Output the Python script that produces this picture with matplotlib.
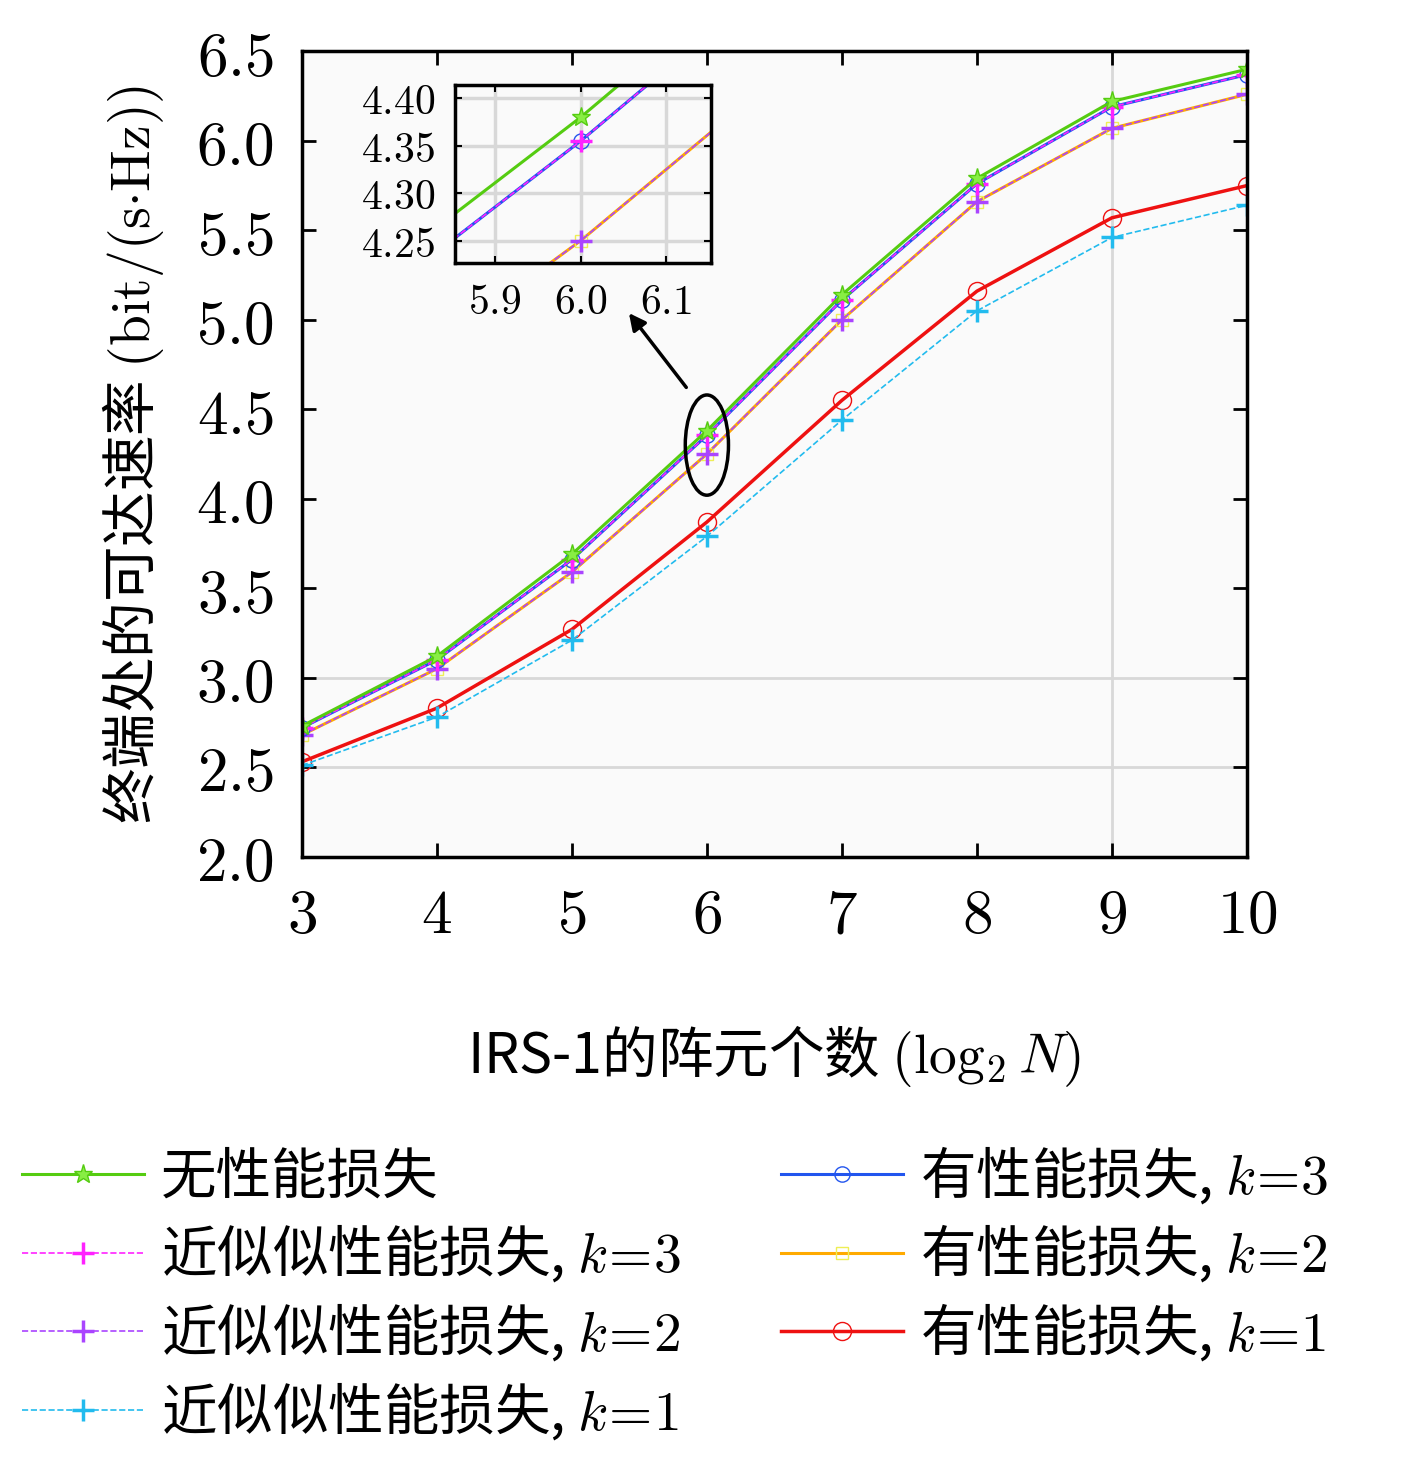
import matplotlib
matplotlib.use('Agg')
import matplotlib.pyplot as plt
from matplotlib.patches import Ellipse

plt.rcParams['mathtext.fontset'] = 'cm'
plt.rcParams['font.family'] = ['Noto Sans CJK SC', 'DejaVu Serif']

# data
n_log = [3, 4, 5, 6, 7, 8, 9, 10]
no_loss = [2.73, 3.12, 3.69, 4.38, 5.14, 5.79, 6.22, 6.40]
real_k3 = [2.72, 3.10, 3.66, 4.355, 5.11, 5.76, 6.19, 6.37]
real_k2 = [2.68, 3.05, 3.59, 4.25, 5.00, 5.66, 6.07, 6.26]
real_k1 = [2.53, 2.83, 3.27, 3.87, 4.55, 5.16, 5.57, 5.75]
appr_k3 = [2.72, 3.10, 3.66, 4.355, 5.11, 5.76, 6.19, 6.37]
appr_k2 = [2.68, 3.05, 3.59, 4.25, 5.00, 5.66, 6.07, 6.26]
appr_k1 = [2.51, 2.78, 3.21, 3.79, 4.44, 5.05, 5.46, 5.64]
y_ticks = [2.0, 2.5, 3.0, 3.5, 4.0, 4.5, 5.0, 5.5, 6.0, 6.5]
inset_xticks = [5.9, 6.0, 6.1]
inset_yticks = [4.25, 4.30, 4.35, 4.40]

series = [
    (no_loss, '无性能损失', dict(color='#55cc11', ls='-', marker='*', ms=14, mfc='#88ee44', lw=2.2)),
    (appr_k3, '近似似性能损失, $k\\!=\\!3$', dict(color='#ff22ff', ls='--', marker='+', ms=16, mew=2.5, lw=1.2)),
    (appr_k2, '近似似性能损失, $k\\!=\\!2$', dict(color='#aa44ff', ls='--', marker='+', ms=16, mew=2.5, lw=1.2)),
    (appr_k1, '近似似性能损失, $k\\!=\\!1$', dict(color='#22bbee', ls='--', marker='+', ms=16, mew=2.5, lw=1.2)),
    (real_k3, '有性能损失, $k\\!=\\!3$', dict(color='#2255ee', ls='-', marker='o', ms=11, mfc='none', lw=2.2)),
    (real_k2, '有性能损失, $k\\!=\\!2$', dict(color='#ffaa00', ls='-', marker='s', ms=8, mfc='none', mec='#eeee55', lw=2.2)),
    (real_k1, '有性能损失, $k\\!=\\!1$', dict(color='#ee1111', ls='-', marker='o', ms=13, mfc='none', lw=2.5)),
]
draw_order = [6, 3, 5, 2, 4, 1, 0]

fig = plt.figure(figsize=(14.17, 14.67), dpi=100)
ax = fig.add_axes([0.213, 0.416, 0.667, 0.549])
ax.set_facecolor('#fafafa')
for y in [2.5, 3.0]:
    ax.axhline(y, color='#d8d8d8', lw=2, zorder=0)
ax.axvline(9, color='#d8d8d8', lw=2, zorder=0)

handles = {}
for i in draw_order:
    vals, lab, kw = series[i]
    h, = ax.plot(n_log, vals, label=lab, **kw)
    handles[i] = h

ax.set_xlim(3, 10)
ax.set_ylim(2.0, 6.5)
ax.set_xticks(n_log)
ax.set_xticklabels([f'${v}$' for v in n_log], fontsize=44)
ax.set_yticks(y_ticks)
ax.set_yticklabels([f'${v:.1f}$' for v in y_ticks], fontsize=44)
ax.tick_params(direction='in', length=10, width=2, top=True, right=True, pad=20)
for s in ax.spines.values():
    s.set_linewidth(2.5)
ax.set_xlabel('IRS-1的阵元个数 $(\\log_2 N)$', fontsize=40, labelpad=55)
ax.set_ylabel('终端处的可达速率 $(\\mathrm{bit/(s{\\cdot}Hz)})$', fontsize=40, labelpad=22)

ax.add_patch(Ellipse((6, 4.3), 0.32, 0.56, fill=False, lw=2.5, color='black', zorder=10))
ax.annotate('', xy=(5.41, 5.05), xytext=(5.86, 4.61),
            arrowprops=dict(arrowstyle='-|>,head_width=0.5,head_length=1', lw=2.5, color='black'))

ins = fig.add_axes([0.321, 0.821, 0.181, 0.121])
ins.set_facecolor('#fafafa')
for i in draw_order:
    vals, lab, kw = series[i]
    ins.plot(n_log, vals, **kw)
ins.set_xlim(5.853, 6.153)
ins.set_ylim(4.227, 4.414)
ins.set_xticks(inset_xticks)
ins.set_xticklabels([f'${v:.1f}$' for v in inset_xticks], fontsize=30)
ins.set_yticks(inset_yticks)
ins.set_yticklabels([f'${v:.2f}$' for v in inset_yticks], fontsize=30)
ins.grid(True, color='#d8d8d8', lw=2.5)
ins.tick_params(direction='in', length=5, width=1.5, top=True, right=True, pad=14)
for s in ins.spines.values():
    s.set_linewidth(2.5)

fig.legend([handles[i] for i in range(7)], [series[i][1] for i in range(7)],
           loc='upper left', bbox_to_anchor=(0.0, 0.235), ncol=2, frameon=False,
           fontsize=40, handlelength=2.2, handletextpad=0.3, columnspacing=1.8,
           labelspacing=0.3, borderaxespad=0)
fig.savefig('out.png', dpi=100, facecolor='white')
